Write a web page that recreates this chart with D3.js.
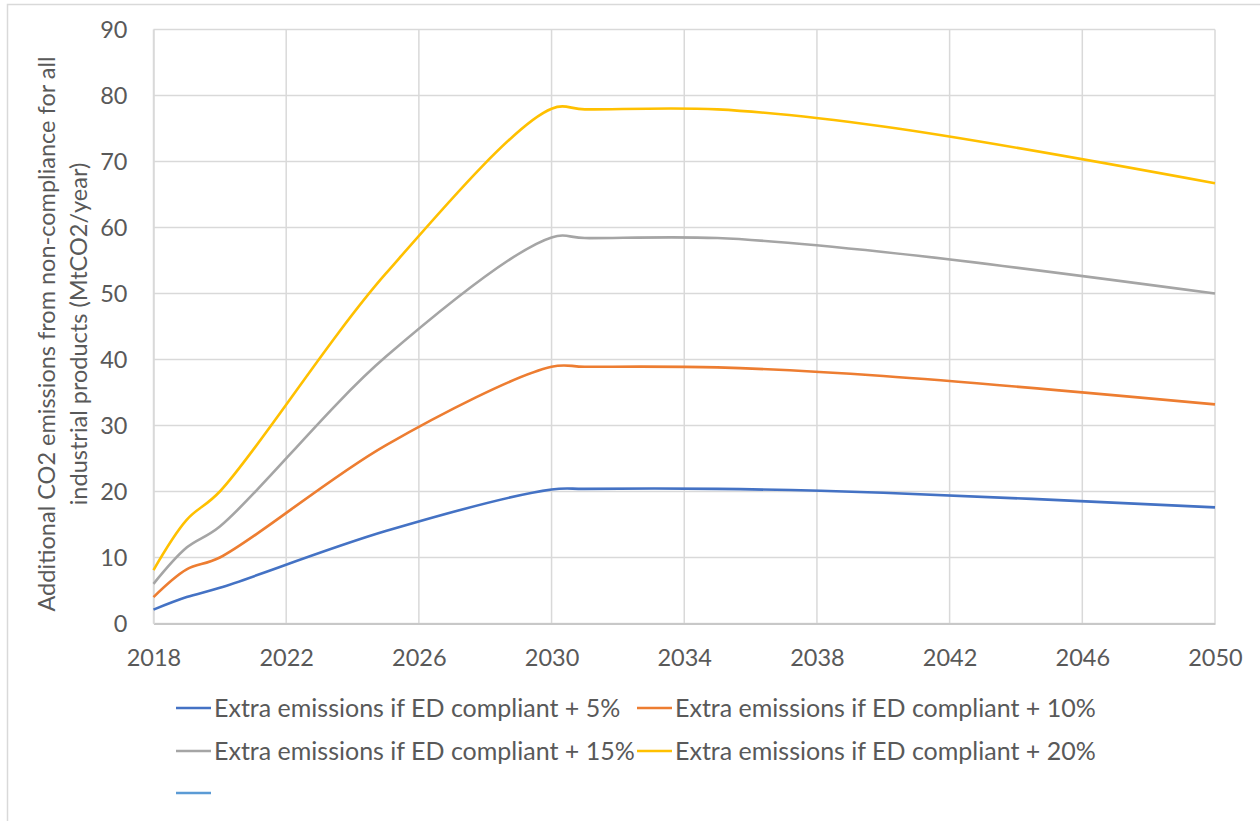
<!DOCTYPE html>
<html>
<head>
<meta charset="utf-8">
<script src="https://cdn.jsdelivr.net/npm/d3@7"></script>
<style>
  html, body { margin: 0; padding: 0; background: #fff; }
  svg { display: block; }
  text { font-family: Lato, "Open Sans", sans-serif; fill: #595959; }
</style>
</head>
<body>
<svg id="chart" width="1260" height="821"></svg>
<script>
// ---- data ----
const years = [2018, 2019, 2020, 2025, 2030, 2031, 2035, 2040, 2050];
const plus5  = [2.1, 4.0, 5.4, 14.0, 20.3, 20.4, 20.4, 19.8, 17.6];
const plus10 = [4.0, 8.2, 10.0, 27.0, 38.9, 38.9, 38.8, 37.5, 33.2];
const plus15 = [6.0, 11.5, 14.7, 40.4, 58.5, 58.4, 58.4, 56.3, 50.0];
const plus20 = [8.1, 15.7, 20.0, 53.0, 78.0, 77.9, 77.9, 75.3, 66.7];
const seriesNames = [
  "Extra emissions if ED compliant + 5%",
  "Extra emissions if ED compliant + 10%",
  "Extra emissions if ED compliant + 15%",
  "Extra emissions if ED compliant + 20%"
];
const seriesColors = ["#4472c4", "#ed7d31", "#a5a5a5", "#ffc000"];
const extraLegendColor = "#5b9bd5";
const xTicks = [2018, 2022, 2026, 2030, 2034, 2038, 2042, 2046, 2050];
const yTicks = [0, 10, 20, 30, 40, 50, 60, 70, 80, 90];
const yTitle = ["Additional CO2 emissions from non-compliance for all", "industrial products (MtCO2/year)"];

// ---- layout ----
const W = 1260, H = 821;
const plot = {left: 153.5, right: 1215, top: 29.5, bottom: 623.5};
const svg = d3.select("#chart");

// chart border
svg.append("rect").attr("x", 7.5).attr("y", 4.5).attr("width", W + 10).attr("height", H + 10)
  .attr("fill", "none").attr("stroke", "#d9d9d9").attr("stroke-width", 1.5);

const x = d3.scaleLinear().domain([2018, 2050]).range([plot.left, plot.right]);
const y = d3.scaleLinear().domain([0, 90]).range([plot.bottom, plot.top]);

// gridlines
const grid = svg.append("g");
grid.selectAll("line.h").data(yTicks).join("line")
  .attr("x1", plot.left).attr("x2", plot.right)
  .attr("y1", d => y(d)).attr("y2", d => y(d))
  .attr("stroke", "#d9d9d9").attr("stroke-width", 1.5);
grid.selectAll("line.v").data(xTicks).join("line")
  .attr("y1", plot.top).attr("y2", plot.bottom)
  .attr("x1", d => x(d)).attr("x2", d => x(d))
  .attr("stroke", "#d9d9d9").attr("stroke-width", 1.5);

// axes
const xAxis = d3.axisBottom(x).tickValues(xTicks).tickFormat(d3.format("d")).tickSize(0).tickPadding(26);
const gx = svg.append("g").attr("transform", `translate(0,${plot.bottom})`).call(xAxis);
gx.select(".domain").attr("stroke", "#c8c8c8").attr("stroke-width", 2);
gx.selectAll("text").attr("font-size", 23.5).style("fill", "#595959");

const yAxis = d3.axisLeft(y).tickValues(yTicks).tickSize(0).tickPadding(26);
const gy = svg.append("g").attr("transform", `translate(${plot.left},0)`).call(yAxis);
gy.select(".domain").attr("stroke", "#d9d9d9").attr("stroke-width", 1.5);
gy.selectAll("text").attr("font-size", 23.5).style("fill", "#595959");

// y title
const cy = 334;
yTitle.forEach((t, i) => {
  svg.append("text")
    .attr("transform", `translate(${55 + i * 32},${cy}) rotate(-90)`)
    .attr("text-anchor", "middle")
    .attr("font-size", 23.5)
    .text(t);
});

// lines
const allSeries = [plus5, plus10, plus15, plus20];
const line = d3.line()
  .x((d, i) => x(years[i]))
  .y(d => y(d))
  .curve(d3.curveCatmullRom.alpha(0.5));
allSeries.forEach((s, k) => {
  svg.append("path").datum(s)
    .attr("d", line)
    .attr("fill", "none")
    .attr("stroke", seriesColors[k])
    .attr("stroke-width", 2.6)
    .attr("stroke-linejoin", "round");
});

// legend
const legendItems = seriesNames.map((n, i) => ({name: n, color: seriesColors[i]}));
legendItems.push({name: "", color: extraLegendColor});
const colX = [176, 637];
const rowY = [708, 751, 793];
legendItems.forEach((it, i) => {
  const lx = colX[i % 2], ly = rowY[Math.floor(i / 2)];
  svg.append("line").attr("x1", lx).attr("x2", lx + 35).attr("y1", ly).attr("y2", ly)
    .attr("stroke", it.color).attr("stroke-width", 2.6);
  if (it.name) {
    svg.append("text").attr("x", lx + 38).attr("y", ly).attr("dy", "0.35em")
      .attr("font-size", 25).text(it.name);
  }
});
</script>
</body>
</html>
